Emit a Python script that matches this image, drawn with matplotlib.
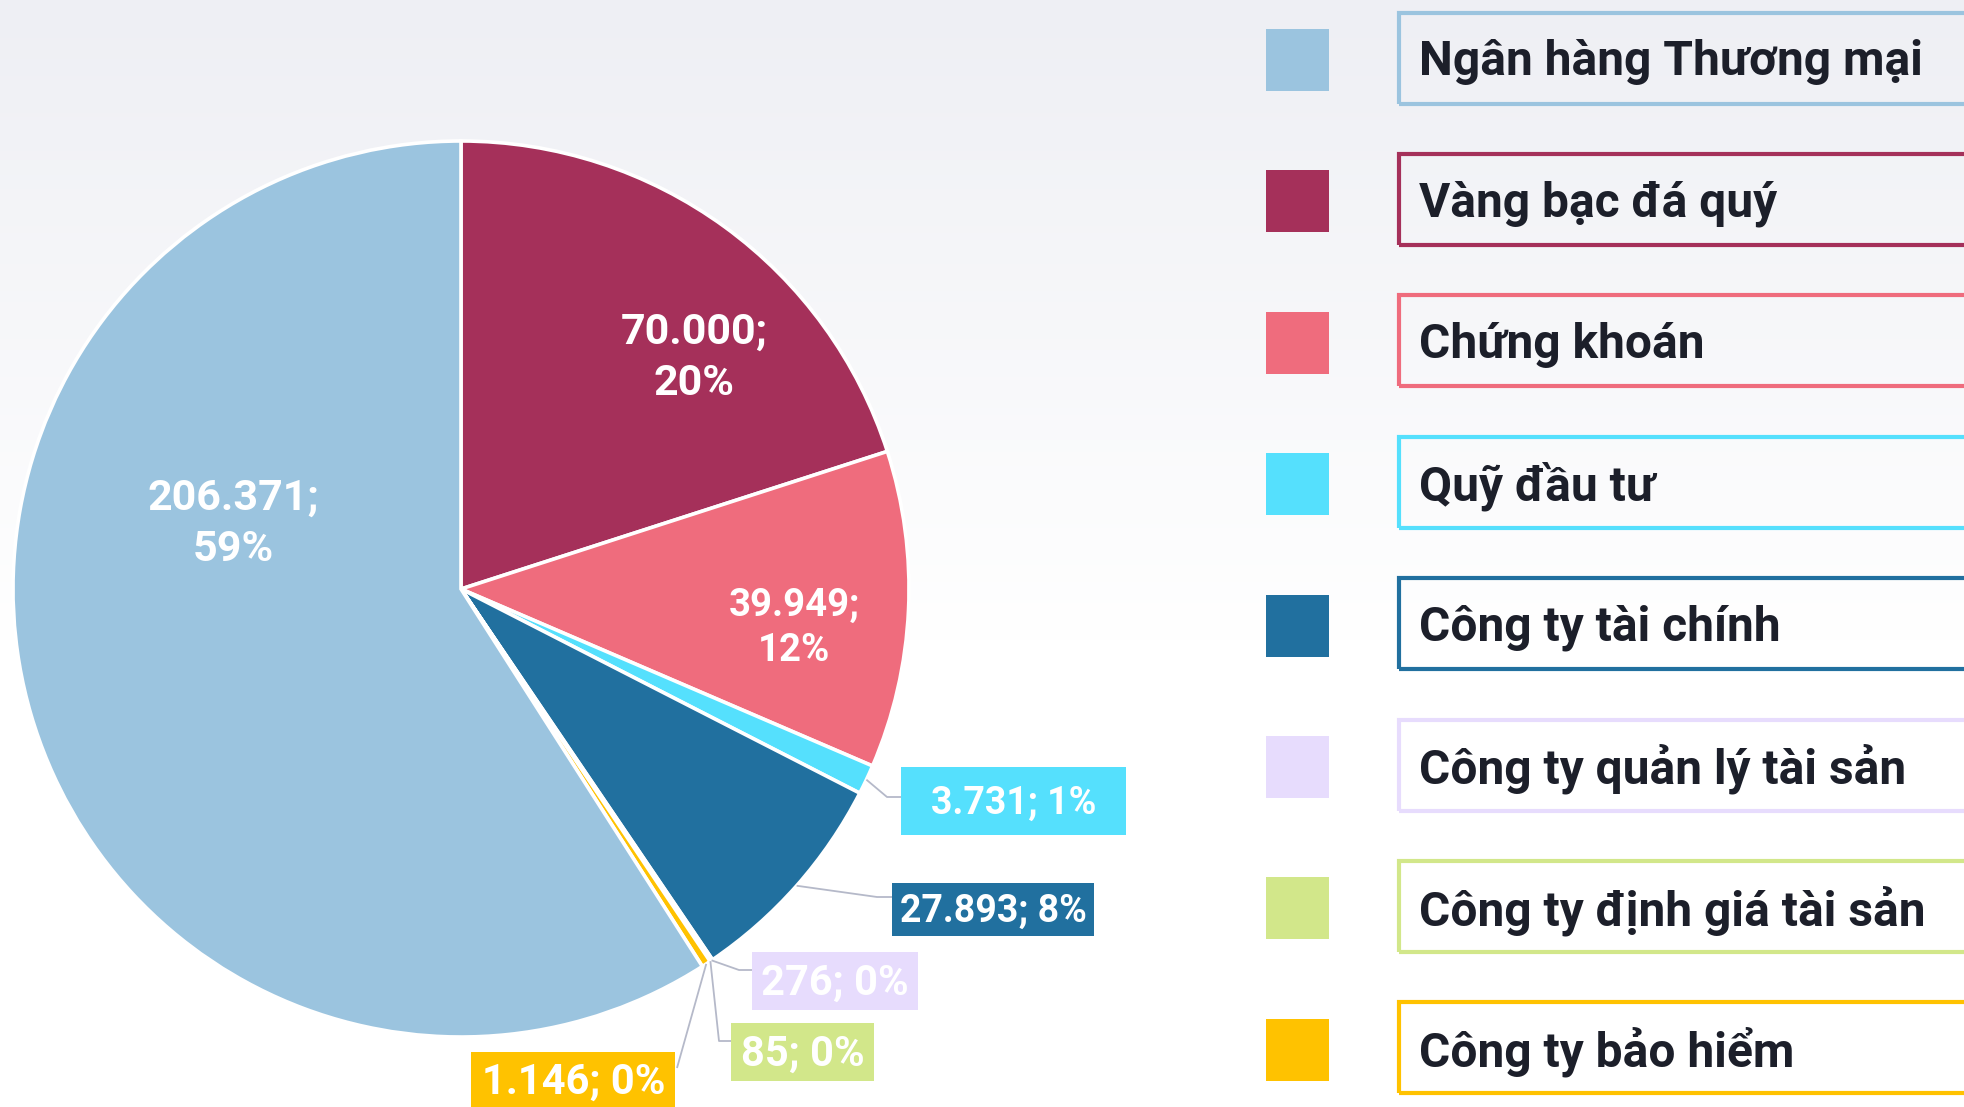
import numpy as np
import matplotlib.pyplot as plt
from matplotlib.patches import Rectangle
from matplotlib.colors import to_rgb

W, H = 1964, 1107
plt.rcParams['font.family'] = ['Roboto', 'DejaVu Sans']
plt.rcParams['font.weight'] = 'bold'

# data, in legend order
categories = ["Ngân hàng Thương mại", "Vàng bạc đá quý", "Chứng khoán", "Quỹ đầu tư",
              "Công ty tài chính", "Công ty quản lý tài sản", "Công ty định giá tài sản",
              "Công ty bảo hiểm"]
values = [206371, 70000, 39949, 3731, 27893, 276, 85, 1146]
value_labels = ["206.371", "70.000", "39.949", "3.731", "27.893", "276", "85", "1.146"]
pct_labels = ["59%", "20%", "12%", "1%", "8%", "0%", "0%", "0%"]
colors = ["#9bc4df", "#a5305a", "#ef6c7d", "#55e0fd", "#21709f", "#e7dcfd", "#d2e78a", "#ffc200"]

# pie goes clockwise from the top starting with "Vàng bạc đá quý"
pie_order = [1, 2, 3, 4, 5, 6, 7, 0]

def Y(y):
    # picture rows (top down) -> data y (bottom up)
    return H - y

fig = plt.figure(figsize=(W / 100, H / 100), dpi=100)
ax = fig.add_axes([0, 0, 1, 1])

# soft background gradient
top = np.array(to_rgb("#eeeff4"))
t = np.clip(np.arange(H) / 640.0, 0, 1)[:, None]
grad = top * (1 - t) + np.ones(3) * t
ax.imshow(grad[:, None, :], extent=(0, W, 0, H), aspect='auto', zorder=0)

cx, cy, R = 461, Y(589), 448
wedges, _ = ax.pie([values[i] for i in pie_order], colors=[colors[i] for i in pie_order],
                   startangle=90, counterclock=False, radius=R, center=(cx, cy),
                   wedgeprops=dict(edgecolor='white', linewidth=2.6, zorder=2))
wedge_of = {idx: w for idx, w in zip(pie_order, wedges)}

# labels inside the big slices (centre of the two-line block, font size)
inside_pos = {0: (233, 524, 31), 1: (694, 358, 31), 2: (794, 628, 27.5)}
for i, (x, y, fs) in inside_pos.items():
    ax.text(x, Y(y), value_labels[i] + ";\n" + pct_labels[i], ha='center', va='center',
            color='white', fontsize=fs, linespacing=1.3, zorder=5)

# boxed labels outside: box (x0, y0, x1, y1), font size, connector bend points
outside = {
    3: ((901, 767, 1126, 835), 27, [(887, 797), (901, 797)], None),
    4: ((892, 883, 1094, 936), 27, [(877, 897), (892, 897)], None),
    5: ((752, 952, 918, 1010), 30, [(739, 970), (752, 970)], None),
    6: ((731, 1023, 874, 1081), 30, [(719, 1041), (731, 1041)], None),
    7: ((471, 1052, 675, 1130), 30, [(677, 1068)], (574, 1080)),
}
for i, (box, fs, bends, tpos) in outside.items():
    w = wedge_of[i]
    mid = np.deg2rad((w.theta1 + w.theta2) / 2)
    xs = [cx + R * np.cos(mid)] + [b[0] for b in bends]
    ys = [cy + R * np.sin(mid)] + [Y(b[1]) for b in bends]
    ax.plot(xs, ys, color="#b5b9c9", lw=1.3, zorder=3, solid_capstyle='butt')
    x0, y0, x1, y1 = box
    ax.add_patch(Rectangle((x0, Y(y1)), x1 - x0, y1 - y0, facecolor=colors[i],
                           edgecolor='none', zorder=4))
    if tpos is None:
        tpos = ((x0 + x1) / 2, (y0 + y1) / 2)
    ax.text(tpos[0], Y(tpos[1] + 2), value_labels[i] + "; " + pct_labels[i], ha='center',
            va='center', color='white', fontsize=fs, zorder=5)

# legend on the right
row_h = 141.4
for i, cat in enumerate(categories):
    top_y = 12.5 + row_h * i
    ax.add_patch(Rectangle((1266, Y(top_y + 16.5 + 62)), 63, 62, facecolor=colors[i],
                           edgecolor='none', zorder=4))
    ax.add_patch(Rectangle((1399, Y(top_y + 91)), 700, 91, facecolor='none',
                           edgecolor=colors[i], lw=3, zorder=4))
    ax.text(1419, Y(top_y + 49.5), cat, ha='left', va='center', color="#1c1f2a",
            fontsize=34.5, zorder=5)

ax.set_xlim(0, W)
ax.set_ylim(0, H)
ax.set_aspect('auto')
ax.axis('off')

fig.savefig("out.png", dpi=100)
